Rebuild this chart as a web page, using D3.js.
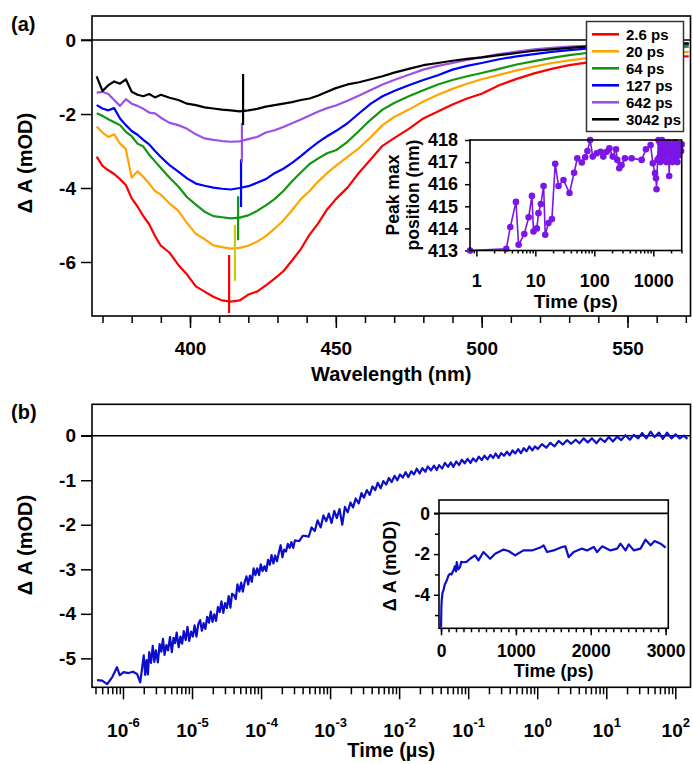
<!DOCTYPE html>
<html>
<head>
<meta charset="utf-8">
<script src="https://cdn.jsdelivr.net/npm/d3@7"></script>
<style>
  body { margin: 0; background: #fff; }
  svg { display: block; font-family: "Liberation Sans", Arial, sans-serif; font-weight: bold; }
</style>
</head>
<body>
<svg id="fig" width="693" height="764"></svg>
<script>
// ---------- data: panel (a) spectra ----------
const wavelengths = [368,370,372,374,376,378,380,382,384,386,388,390,
  393,396,399,402,405,408,411,414,417,420,423,426,429,432,435,438,441,444,447,450,
  454,458,462,466,470,475,480,485,490,495,500,
  506,512,518,524,530,536,542,548,554,560,566,571];

const spec2p6 = [-3.15,-3.40,-3.52,-3.62,-3.76,-3.92,-4.28,-4.50,-4.76,-4.98,-5.30,-5.56,
  -5.75,-6.08,-6.34,-6.66,-6.80,-6.94,-7.04,-7.07,-7.04,-6.88,-6.80,-6.63,-6.45,-6.25,-5.96,-5.65,-5.26,-4.95,-4.58,-4.30,
  -3.99,-3.58,-3.22,-2.86,-2.65,-2.40,-2.12,-1.93,-1.74,-1.58,-1.45,
  -1.22,-1.05,-0.90,-0.78,-0.68,-0.61,-0.56,-0.52,-0.49,-0.47,-0.45,-0.44];
const spec20 = [-2.34,-2.50,-2.62,-2.55,-2.80,-2.95,-3.72,-3.55,-3.70,-3.88,-4.08,-4.18,
  -4.42,-4.62,-4.95,-5.24,-5.38,-5.55,-5.60,-5.64,-5.62,-5.56,-5.45,-5.30,-5.10,-4.88,-4.60,-4.30,-4.08,-3.82,-3.60,-3.40,
  -3.16,-2.92,-2.62,-2.30,-2.08,-1.88,-1.66,-1.48,-1.32,-1.18,-1.06,
  -0.94,-0.82,-0.72,-0.62,-0.55,-0.49,-0.44,-0.40,-0.37,-0.35,-0.33,-0.32];
const spec64 = [-1.98,-2.05,-2.14,-2.22,-2.30,-2.48,-2.60,-2.80,-2.88,-3.10,-3.28,-3.46,
  -3.72,-3.96,-4.25,-4.45,-4.64,-4.76,-4.79,-4.82,-4.80,-4.74,-4.62,-4.47,-4.30,-4.08,-3.82,-3.58,-3.35,-3.20,-3.06,-2.98,
  -2.75,-2.45,-2.15,-1.88,-1.70,-1.52,-1.36,-1.20,-1.08,-0.98,-0.89,
  -0.78,-0.66,-0.57,-0.48,-0.41,-0.35,-0.30,-0.26,-0.23,-0.21,-0.19,-0.18];
const spec127 = [-1.76,-1.85,-1.90,-1.84,-2.12,-2.30,-2.46,-2.56,-2.70,-2.82,-3.00,-3.16,
  -3.38,-3.56,-3.74,-3.88,-3.94,-3.99,-4.02,-4.04,-4.00,-3.95,-3.86,-3.76,-3.60,-3.48,-3.32,-3.14,-2.94,-2.76,-2.60,-2.46,
  -2.25,-1.98,-1.72,-1.52,-1.38,-1.22,-1.08,-0.95,-0.80,-0.70,-0.62,
  -0.52,-0.44,-0.38,-0.32,-0.27,-0.23,-0.20,-0.17,-0.15,-0.14,-0.13,-0.12];
const spec642 = [-1.42,-1.40,-1.46,-1.62,-1.78,-1.60,-1.72,-1.78,-1.86,-1.96,-1.98,-2.10,
  -2.24,-2.30,-2.40,-2.55,-2.66,-2.70,-2.73,-2.75,-2.74,-2.68,-2.62,-2.50,-2.44,-2.35,-2.25,-2.15,-2.04,-1.93,-1.84,-1.77,
  -1.64,-1.50,-1.35,-1.20,-1.08,-0.94,-0.80,-0.70,-0.62,-0.54,-0.47,
  -0.38,-0.31,-0.25,-0.21,-0.18,-0.16,-0.14,-0.12,-0.11,-0.10,-0.10,-0.09];
const spec3042 = [-0.98,-1.38,-1.22,-1.12,-1.18,-1.06,-1.40,-1.48,-1.52,-1.46,-1.55,-1.48,
  -1.56,-1.62,-1.72,-1.76,-1.82,-1.85,-1.88,-1.90,-1.93,-1.90,-1.86,-1.80,-1.76,-1.72,-1.68,-1.62,-1.58,-1.50,-1.40,-1.30,
  -1.20,-1.14,-1.06,-0.98,-0.88,-0.78,-0.68,-0.62,-0.56,-0.51,-0.47,
  -0.41,-0.35,-0.29,-0.25,-0.21,-0.18,-0.16,-0.14,-0.12,-0.11,-0.10,-0.09];

const specLabels = ["2.6 ps", "20 ps", "64 ps", "127 ps", "642 ps", "3042 ps"];
const specColors = ["#ff0000", "#ffa500", "#109610", "#0000ff", "#9b50e6", "#000000"];
const specSeries = [spec2p6, spec20, spec64, spec127, spec642, spec3042];

// peak position markers (vertical bars)
const peakWl = [413.4, 415.4, 416.5, 417.5, 417.8, 418.2];
const peakLo = [-7.38, -6.51, -5.41, -4.51, -3.32, -2.30];
const peakHi = [-5.81, -5.00, -4.22, -3.22, -2.24, -0.92];
const peakColors = ["#ff0000", "#cccc00", "#109610", "#0000ff", "#9b50e6", "#000000"];

// inset (a): peak max position vs time
const peakTime = [0.78, 3.22, 3.76, 4.69, 5.2, 6.5, 7.7, 8.75, 9.3, 10.6, 11.3, 12.4, 13.8, 14.7, 16.7, 19.1,
  21.7, 24.7, 30, 37.9, 45.4, 51.5, 61.3, 69.8, 76.4, 85, 94, 110, 128, 142, 162, 180, 205, 233, 245, 265, 290,
  330, 430, 635, 750, 900, 980, 1070, 1110, 1135, 1180, 1225, 1250, 1280, 1310, 1340, 1370, 1400, 1430, 1460,
  1500, 1540, 1580, 1620, 1660, 1700, 1750, 1800, 1860, 1900, 1950, 2000, 2060, 2120, 2180, 2250, 2320, 2400,
  2480, 2560, 2640, 2720, 2800, 2880, 2960, 3030];
const peakPos = [413.0, 413.08, 414.06, 415.2, 413.26, 413.75, 414.5, 415.47, 413.86, 414.0, 414.69, 415.1, 415.92, 413.71, 414.24, 414.42,
  416.92, 415.92, 416.19, 415.6, 416.52, 417.17, 416.98, 417.22, 417.5, 418.0, 417.25, 417.4, 417.47, 417.25, 417.47, 417.62, 417.25, 417.58, 417.1, 416.72, 416.87,
  417.17, 417.17, 417.1, 417.58, 417.77, 416.95, 416.5, 416.27, 415.77, 417.1, 418.0, 417.2, 417.9, 417.0, 417.8, 417.4, 418.0, 417.1, 417.6,
  417.9, 417.3, 417.8, 417.5, 417.0, 417.7, 417.4, 417.9, 416.37, 417.6, 417.2, 417.8, 417.5, 417.0, 417.7, 417.4, 417.9, 417.2,
  417.6, 417.0, 417.8, 417.3, 417.6, 417.8, 417.5, 417.8];

// ---------- data: panel (b) kinetics, time in microseconds ----------
const kinTime = [
  4.2e-7, 5.0e-7, 5.9e-7, 7.0e-7, 8.2e-7, 9.0e-7, 1.02e-6, 1.2e-6, 1.4e-6, 1.6e-6, 1.78e-6, 1.9e-6,
  2.0e-6, 2.1e-6, 2.2e-6, 2.3e-6, 2.4e-6, 2.55e-6, 2.7e-6, 2.85e-6, 3.0e-6, 3.2e-6, 3.4e-6, 3.6e-6, 3.8e-6, 4.0e-6,
  4.25e-6, 4.5e-6, 4.8e-6, 5.1e-6, 5.4e-6, 5.7e-6, 6.0e-6, 6.4e-6, 6.8e-6, 7.2e-6, 7.6e-6, 8.1e-6, 8.6e-6, 9.1e-6, 9.7e-6,
  1.03e-5, 1.09e-5, 1.16e-5, 1.23e-5, 1.31e-5, 1.39e-5, 1.47e-5, 1.56e-5, 1.66e-5, 1.76e-5, 1.87e-5, 1.98e-5, 2.1e-5,
  2.23e-5, 2.37e-5, 2.52e-5, 2.67e-5, 2.84e-5, 3.01e-5, 3.2e-5, 3.4e-5, 3.6e-5, 3.8e-5, 4.05e-5, 4.3e-5, 4.55e-5, 4.85e-5,
  5.15e-5, 5.45e-5, 5.8e-5, 6.15e-5, 6.5e-5, 6.9e-5, 7.35e-5, 7.8e-5, 8.3e-5, 8.8e-5, 9.35e-5, 9.9e-5,
  1.05e-4, 1.12e-4, 1.19e-4, 1.26e-4, 1.34e-4, 1.42e-4, 1.51e-4, 1.6e-4, 1.7e-4, 1.8e-4, 1.92e-4, 2.04e-4, 2.16e-4,
  2.3e-4, 2.44e-4, 2.59e-4, 2.75e-4, 2.92e-4, 3.1e-4,
  3.3e-4, 3.6e-4, 4.0e-4, 4.4e-4, 4.9e-4, 5.4e-4, 6.0e-4, 6.6e-4, 7.3e-4, 8.0e-4, 8.8e-4, 9.6e-4, 1.05e-3, 1.15e-3,
  1.25e-3, 1.37e-3, 1.5e-3, 1.64e-3, 1.8e-3, 1.97e-3, 2.15e-3, 2.35e-3, 2.6e-3, 2.85e-3, 3.1e-3, 3.4e-3, 3.75e-3,
  4.1e-3, 4.5e-3, 4.9e-3, 5.4e-3, 5.9e-3, 6.5e-3, 7.1e-3, 7.8e-3, 8.6e-3, 9.4e-3, 1.03e-2, 1.13e-2, 1.24e-2, 1.36e-2,
  1.5e-2, 1.64e-2, 1.8e-2, 1.98e-2, 2.17e-2, 2.4e-2, 2.6e-2, 2.9e-2, 3.2e-2, 3.5e-2, 3.8e-2, 4.2e-2, 4.6e-2, 5.1e-2,
  5.6e-2, 6.1e-2, 6.7e-2, 7.4e-2, 8.1e-2, 8.9e-2, 9.8e-2, 0.108, 0.118, 0.13, 0.143, 0.157, 0.172, 0.19, 0.21, 0.23,
  0.25, 0.275, 0.30, 0.33, 0.365, 0.40, 0.44, 0.48, 0.53, 0.58, 0.64, 0.70, 0.77, 0.85, 0.93,
  1.02, 1.17, 1.35, 1.55, 1.78, 2.05, 2.35, 2.7, 3.1, 3.6, 4.1, 4.7, 5.4, 6.2, 7.2, 8.2, 9.5, 10.9, 12.5, 14.4, 16.5,
  19, 22, 25, 29, 33, 38, 44, 50, 58, 66, 76, 88, 101, 116, 133, 150];
const kinVal = [
  -5.49, -5.50, -5.58, -5.42, -5.20, -5.38, -5.31, -5.33, -5.30, -5.35, -5.54, -5.20,
  -4.93, -5.37, -5.04, -5.36, -4.86, -5.10, -4.72, -5.08, -4.82, -5.09, -4.68, -4.85, -4.56, -4.92,
  -4.70, -4.82, -4.52, -4.86, -4.54, -4.66, -4.42, -4.75, -4.51, -4.67, -4.39, -4.59, -4.29, -4.61, -4.40,
  -4.51, -4.26, -4.51, -4.24, -4.14, -4.38, -4.21, -4.34, -4.07, -4.20, -3.95, -4.18, -4.01,
  -4.16, -3.85, -3.96, -3.72, -3.98, -3.76, -3.87, -3.60, -3.86, -3.55, -3.58, -3.67, -3.34, -3.50,
  -3.30, -3.50, -3.28, -3.16, -3.34, -3.14, -3.28, -2.98, -3.13, -2.98, -3.13, -2.89,
  -3.04, -2.93, -3.04, -2.79, -2.90, -2.68, -2.87, -2.69, -2.82, -2.64, -2.46, -2.73, -2.56,
  -2.60, -2.43, -2.52, -2.39, -2.52, -2.35,
  -2.36, -2.36, -2.25, -2.25, -2.27, -2.06, -2.14, -1.90, -2.06, -1.79, -1.92, -1.75, -1.96, -1.69,
  -1.85, -1.65, -2.00, -1.60, -1.72, -1.50, -1.61, -1.41, -1.52, -1.29, -1.39, -1.22, -1.33,
  -1.14, -1.22, -1.06, -1.18, -1.02, -1.10, -0.95, -1.04, -0.90, -1.00, -0.87, -0.94, -0.82, -0.93,
  -0.80, -0.87, -0.74, -0.85, -0.73, -0.81, -0.69, -0.78, -0.67, -0.77, -0.66, -0.74, -0.61, -0.70,
  -0.60, -0.70, -0.58, -0.66, -0.54, -0.62, -0.52, -0.61, -0.51, -0.58, -0.47, -0.55, -0.45, -0.53, -0.43, -0.50,
  -0.40, -0.50, -0.39, -0.45, -0.36, -0.44, -0.33, -0.40, -0.30, -0.39, -0.28, -0.35, -0.24, -0.33, -0.24,
  -0.30, -0.19, -0.27, -0.16, -0.24, -0.12, -0.20, -0.10, -0.18, -0.09, -0.17, -0.06, -0.15, -0.06, -0.17, -0.06, -0.14, -0.03, -0.13, -0.02, -0.10,
  0.01, -0.09, 0.02, -0.06, 0.06, -0.06, 0.09, -0.03, 0.07, -0.07, 0.07, -0.06, 0.03, -0.06, 0.00, -0.07];

// inset (b): early kinetics, linear time in ps
const earlyTime = [0, 5, 9, 20, 31, 50, 76, 100, 120, 140, 165, 185, 200, 210, 230, 254, 270, 299, 340, 388, 455, 500,
  567, 656, 723, 835, 902, 991, 1102, 1214, 1326, 1370, 1416, 1504, 1616, 1661, 1705, 1772, 1884, 1951, 2040, 2085,
  2152, 2263, 2353, 2397, 2464, 2508, 2575, 2665, 2732, 2799, 2853, 2933, 3000];
const earlyVal = [-5.61, -4.60, -4.29, -3.90, -3.80, -3.50, -3.30, -3.05, -2.97, -3.00, -2.81, -2.60, -2.85, -2.40, -2.75, -2.64, -2.38, -2.40, -2.38, -2.23, -2.06, -2.31,
  -1.90, -2.23, -1.98, -1.78, -1.85, -2.06, -1.82, -1.82, -1.68, -1.57, -1.90, -1.82, -1.65, -1.62, -2.15, -1.90, -1.73, -1.82, -1.65, -1.90,
  -1.62, -1.82, -1.73, -1.49, -1.82, -1.52, -1.82, -1.73, -1.29, -1.57, -1.36, -1.49, -1.68];

// ---------- drawing ----------
const svg = d3.select("#fig");
const FRAME_W = 1.6;

function styleAxis(g, size) {
  g.select(".domain").remove();
  g.attr("font-family", null).attr("font-size", size);
  g.selectAll(".tick line").attr("stroke", "#000").attr("stroke-width", 1.5);
  g.selectAll(".tick text").attr("fill", "#000");
  return g;
}

function logMinor(lo, hi) {
  const out = [];
  for (let k = Math.floor(Math.log10(lo)); k <= Math.ceil(Math.log10(hi)); k++) {
    for (let m = 2; m <= 9; m++) {
      const v = m * Math.pow(10, k);
      if (v >= lo && v <= hi) out.push(v);
    }
  }
  return out;
}

// ===== panel (a) =====
const A = {left: 92, right: 690.5, top: 16, bottom: 316};
const xA = d3.scaleLinear().domain([366.4, 571.6]).range([A.left, A.right]);
const yA = d3.scaleLinear().domain([-7.46, 0.65]).range([A.bottom, A.top]);

svg.append("clipPath").attr("id", "clipA").append("rect")
  .attr("x", A.left).attr("y", A.top).attr("width", A.right - A.left).attr("height", A.bottom - A.top);

const gA = svg.append("g").attr("clip-path", "url(#clipA)");
const lineA = d3.line().x(d => xA(d[0])).y(d => yA(d[1]));

specSeries.forEach((vals, i) => {
  gA.append("path")
    .datum(d3.zip(wavelengths, vals))
    .attr("d", lineA)
    .attr("fill", "none")
    .attr("stroke", specColors[i])
    .attr("stroke-width", 2.2)
    .attr("stroke-linejoin", "round");
});

// peak markers
gA.selectAll("line.peak")
  .data(peakWl)
  .enter().append("line")
    .attr("class", "peak")
    .attr("x1", d => xA(d)).attr("x2", d => xA(d))
    .attr("y1", (d, i) => yA(peakLo[i]))
    .attr("y2", (d, i) => yA(peakHi[i]))
    .attr("stroke", (d, i) => peakColors[i])
    .attr("stroke-width", 2.2);

// zero line
svg.append("line")
  .attr("x1", 81).attr("x2", A.right)
  .attr("y1", yA(0)).attr("y2", yA(0))
  .attr("stroke", "#000").attr("stroke-width", 1.6);

// axes (a)
styleAxis(svg.append("g")
  .attr("transform", `translate(0,${A.bottom})`)
  .call(d3.axisBottom(xA).tickValues(d3.range(370, 571, 10)).tickSize(7).tickFormat("")), 19);
const axA = styleAxis(svg.append("g")
  .attr("transform", `translate(0,${A.bottom})`)
  .call(d3.axisBottom(xA).tickValues([400, 450, 500, 550]).tickSize(12).tickFormat(d3.format("d"))), 19);
axA.selectAll(".tick text").attr("y", 39).attr("dy", null);

styleAxis(svg.append("g")
  .attr("transform", `translate(${A.left},0)`)
  .call(d3.axisLeft(yA).tickValues([0, -2, -4, -6]).tickSize(11).tickPadding(5).tickFormat(d => String(d))), 19);

svg.append("rect")
  .attr("x", A.left).attr("y", A.top).attr("width", A.right - A.left).attr("height", A.bottom - A.top)
  .attr("fill", "none").attr("stroke", "#000").attr("stroke-width", FRAME_W);

svg.append("text").attr("x", (A.left + A.right) / 2).attr("y", 381)
  .attr("text-anchor", "middle").attr("font-size", 20).text("Wavelength (nm)");
svg.append("text").attr("transform", "translate(32,163) rotate(-90)")
  .attr("text-anchor", "middle").attr("font-size", 20).text("Δ A (mOD)");
svg.append("text").attr("x", 11).attr("y", 31).attr("font-size", 20).text("(a)");

// legend
const leg = svg.append("g");
leg.append("rect").attr("x", 586.5).attr("y", 21.5).attr("width", 97).attr("height", 110)
  .attr("fill", "#fff").attr("stroke", "#333").attr("stroke-width", 1.5);
specLabels.forEach((lab, i) => {
  const yy = 34.3 + i * 17;
  leg.append("line").attr("x1", 592).attr("x2", 619).attr("y1", yy).attr("y2", yy)
    .attr("stroke", specColors[i]).attr("stroke-width", 2.6);
  leg.append("text").attr("x", 626).attr("y", yy + 5.5).attr("font-size", 15).text(lab);
});

// inset (a)
const IA = {left: 470, right: 681.7, top: 140, bottom: 250.5};
const xIA = d3.scaleLog().domain([0.78, 3030]).range([IA.left, IA.right]);
const yIA = d3.scaleLinear().domain([413, 418]).range([IA.bottom, IA.top]);

svg.append("rect")
  .attr("x", IA.left).attr("y", IA.top).attr("width", IA.right - IA.left).attr("height", IA.bottom - IA.top)
  .attr("fill", "#fff");

styleAxis(svg.append("g")
  .attr("transform", `translate(0,${IA.bottom})`)
  .call(d3.axisBottom(xIA).tickValues(logMinor(0.78, 3030)).tickSize(3).tickFormat("")), 17);
const axIA = styleAxis(svg.append("g")
  .attr("transform", `translate(0,${IA.bottom})`)
  .call(d3.axisBottom(xIA).tickValues([1, 10, 100, 1000]).tickSize(6).tickFormat(d3.format("d"))), 18);
axIA.selectAll(".tick text").attr("y", 36.5).attr("dy", null);

styleAxis(svg.append("g")
  .attr("transform", `translate(${IA.left},0)`)
  .call(d3.axisLeft(yIA).tickValues([413, 414, 415, 416, 417, 418]).tickSize(5).tickPadding(7).tickFormat(d3.format("d"))), 18);

const purple = "#7b16e6";
svg.append("path")
  .datum(d3.zip(peakTime, peakPos))
  .attr("d", d3.line().x(d => xIA(d[0])).y(d => yIA(d[1])))
  .attr("fill", "none").attr("stroke", purple).attr("stroke-width", 1.6);
svg.append("g").selectAll("circle")
  .data(d3.zip(peakTime, peakPos))
  .enter().append("circle")
    .attr("cx", d => xIA(d[0])).attr("cy", d => yIA(d[1]))
    .attr("r", 3.3).attr("fill", purple);

svg.append("rect")
  .attr("x", IA.left).attr("y", IA.top).attr("width", IA.right - IA.left).attr("height", IA.bottom - IA.top)
  .attr("fill", "none").attr("stroke", "#000").attr("stroke-width", FRAME_W);

svg.append("text").attr("x", (IA.left + IA.right) / 2).attr("y", 308)
  .attr("text-anchor", "middle").attr("font-size", 19).text("Time (ps)");
svg.append("text").attr("transform", "translate(399,195) rotate(-90)")
  .attr("text-anchor", "middle").attr("font-size", 17.5).text("Peak max");
svg.append("text").attr("transform", "translate(419,195) rotate(-90)")
  .attr("text-anchor", "middle").attr("font-size", 17.5).text("position (nm)");

// ===== panel (b) =====
const B = {left: 92, right: 690.5, top: 404.3, bottom: 687.3};
const xB = d3.scaleLog().domain([3.56e-7, 166]).range([B.left, B.right]);
const yB = d3.scaleLinear().domain([-5.65, 0.705]).range([B.bottom, B.top]);

svg.append("clipPath").attr("id", "clipB").append("rect")
  .attr("x", B.left).attr("y", B.top).attr("width", B.right - B.left).attr("height", B.bottom - B.top);

const kinBlue = "#0d0dcc";
svg.append("line")
  .attr("x1", 81).attr("x2", B.right)
  .attr("y1", yB(0)).attr("y2", yB(0))
  .attr("stroke", "#000").attr("stroke-width", 1.6);

svg.append("g").attr("clip-path", "url(#clipB)")
  .append("path")
    .datum(d3.zip(kinTime, kinVal))
    .attr("d", d3.line().x(d => xB(d[0])).y(d => yB(d[1])))
    .attr("fill", "none").attr("stroke", kinBlue).attr("stroke-width", 2.2)
    .attr("stroke-linejoin", "round");

styleAxis(svg.append("g")
  .attr("transform", `translate(0,${B.bottom})`)
  .call(d3.axisBottom(xB).tickValues(logMinor(3.56e-7, 166)).tickSize(7).tickFormat("")), 19);
const axB = styleAxis(svg.append("g")
  .attr("transform", `translate(0,${B.bottom})`)
  .call(d3.axisBottom(xB).tickValues([1e-6, 1e-5, 1e-4, 1e-3, 1e-2, 1e-1, 1, 10, 100]).tickSize(12).tickFormat("")), 19);
axB.selectAll(".tick text")
  .attr("y", 49.7).attr("dy", null)
  .each(function(d) {
    const t = d3.select(this);
    t.append("tspan").text("10");
    t.append("tspan").attr("dy", -10).attr("font-size", 13).text(Math.round(Math.log10(d)));
  });

styleAxis(svg.append("g")
  .attr("transform", `translate(${B.left},0)`)
  .call(d3.axisLeft(yB).tickValues([0, -1, -2, -3, -4, -5]).tickSize(11).tickPadding(5).tickFormat(d => String(d))), 19);

svg.append("rect")
  .attr("x", B.left).attr("y", B.top).attr("width", B.right - B.left).attr("height", B.bottom - B.top)
  .attr("fill", "none").attr("stroke", "#000").attr("stroke-width", FRAME_W);

svg.append("text").attr("x", (B.left + B.right) / 2).attr("y", 757)
  .attr("text-anchor", "middle").attr("font-size", 20).text("Time (µs)");
svg.append("text").attr("transform", "translate(32,545) rotate(-90)")
  .attr("text-anchor", "middle").attr("font-size", 20).text("Δ A (mOD)");
svg.append("text").attr("x", 11).attr("y", 419).attr("font-size", 20).text("(b)");

// inset (b)
const IB = {left: 439, right: 668.3, top: 500, bottom: 628.3};
const xIB = d3.scaleLinear().domain([-27, 3036]).range([IB.left, IB.right]);
const yIB = d3.scaleLinear().domain([-5.65, 0.66]).range([IB.bottom, IB.top]);

svg.append("rect")
  .attr("x", IB.left).attr("y", IB.top).attr("width", IB.right - IB.left).attr("height", IB.bottom - IB.top)
  .attr("fill", "#fff");

svg.append("clipPath").attr("id", "clipIB").append("rect")
  .attr("x", IB.left).attr("y", IB.top).attr("width", IB.right - IB.left).attr("height", IB.bottom - IB.top);

svg.append("line")
  .attr("x1", 434).attr("x2", IB.right)
  .attr("y1", yIB(0)).attr("y2", yIB(0))
  .attr("stroke", "#000").attr("stroke-width", 1.6);

svg.append("g").attr("clip-path", "url(#clipIB)")
  .append("path")
    .datum(d3.zip(earlyTime, earlyVal))
    .attr("d", d3.line().x(d => xIB(d[0])).y(d => yIB(d[1])))
    .attr("fill", "none").attr("stroke", kinBlue).attr("stroke-width", 2.2)
    .attr("stroke-linejoin", "round");

styleAxis(svg.append("g")
  .attr("transform", `translate(0,${IB.bottom})`)
  .call(d3.axisBottom(xIB).tickValues(d3.range(0, 3001, 100)).tickSize(4).tickFormat("")), 17);
const axIB = styleAxis(svg.append("g")
  .attr("transform", `translate(0,${IB.bottom})`)
  .call(d3.axisBottom(xIB).tickValues([0, 1000, 2000, 3000]).tickSize(7).tickFormat(d3.format("d"))), 17.5);
axIB.selectAll(".tick text").attr("y", 28.7).attr("dy", null);

styleAxis(svg.append("g")
  .attr("transform", `translate(${IB.left},0)`)
  .call(d3.axisLeft(yIB).tickValues([-5, -3, -1]).tickSize(4).tickFormat("")), 17);
styleAxis(svg.append("g")
  .attr("transform", `translate(${IB.left},0)`)
  .call(d3.axisLeft(yIB).tickValues([0, -2, -4]).tickSize(5).tickPadding(4).tickFormat(d => String(d))), 17.5);

svg.append("rect")
  .attr("x", IB.left).attr("y", IB.top).attr("width", IB.right - IB.left).attr("height", IB.bottom - IB.top)
  .attr("fill", "none").attr("stroke", "#000").attr("stroke-width", FRAME_W);

svg.append("text").attr("x", (IB.left + IB.right) / 2).attr("y", 677)
  .attr("text-anchor", "middle").attr("font-size", 18).text("Time (ps)");
svg.append("text").attr("transform", "translate(396,566) rotate(-90)")
  .attr("text-anchor", "middle").attr("font-size", 18).text("Δ A (mOD)");
</script>
</body>
</html>
